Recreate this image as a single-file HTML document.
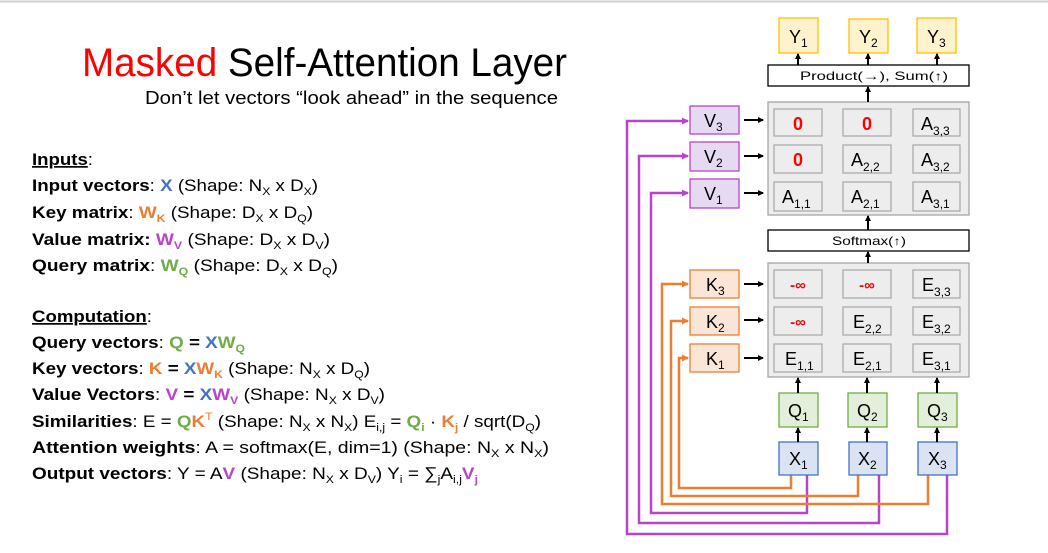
<!DOCTYPE html>
<html><head><meta charset="utf-8"><style>
html,body{margin:0;padding:0;background:#fff;}
svg{display:block;font-family:"Liberation Sans",sans-serif;}
.b{font-weight:bold}
</style></head><body>
<svg width="1048" height="553" viewBox="0 0 1048 553" xmlns="http://www.w3.org/2000/svg">
<defs>
<marker id="ak" markerWidth="6" markerHeight="6" refX="5" refY="3" orient="auto" markerUnits="userSpaceOnUse"><path d="M0,0 L6,3 L0,6z" fill="#000"/></marker>
<marker id="ap" markerWidth="7" markerHeight="7" refX="6" refY="3.5" orient="auto" markerUnits="userSpaceOnUse"><path d="M0,0 L7,3.5 L0,7z" fill="#B845C9"/></marker>
<marker id="ao" markerWidth="7" markerHeight="7" refX="6" refY="3.5" orient="auto" markerUnits="userSpaceOnUse"><path d="M0,0 L7,3.5 L0,7z" fill="#ED7D31"/></marker>
</defs>
<line x1="0" y1="1.5" x2="1048" y2="1.5" stroke="#d0d0d0" stroke-width="2"/>

<text x="82" y="76" font-size="40" textLength="485" lengthAdjust="spacingAndGlyphs"><tspan fill="#FF0000">Masked</tspan> Self-Attention Layer</text>
<text x="145" y="104" font-size="18" textLength="413" lengthAdjust="spacingAndGlyphs">Don’t let vectors “look ahead” in the sequence</text>

<g font-size="17">
<text x="32" y="165" textLength="61" lengthAdjust="spacingAndGlyphs"><tspan class="b" text-decoration="underline">Inputs</tspan>:</text>
<text x="32" y="191" textLength="286" lengthAdjust="spacingAndGlyphs"><tspan class="b">Input vectors</tspan>: <tspan class="b" fill="#4472C4">X</tspan> (Shape: N<tspan font-size="11" dy="4">X</tspan><tspan dy="-4"> x D</tspan><tspan font-size="11" dy="4">X</tspan><tspan dy="-4">)</tspan></text>
<text x="32" y="218" textLength="281" lengthAdjust="spacingAndGlyphs"><tspan class="b">Key matrix</tspan>: <tspan class="b" fill="#ED7D31">W</tspan><tspan class="b" fill="#ED7D31" font-size="11" dy="4">K</tspan><tspan dy="-4"> (Shape: D</tspan><tspan font-size="11" dy="4">X</tspan><tspan dy="-4"> x D</tspan><tspan font-size="11" dy="4">Q</tspan><tspan dy="-4">)</tspan></text>
<text x="32" y="245" textLength="298" lengthAdjust="spacingAndGlyphs"><tspan class="b">Value matrix: </tspan><tspan class="b" fill="#B845C9">W</tspan><tspan class="b" fill="#B845C9" font-size="11" dy="4">V</tspan><tspan dy="-4"> (Shape: D</tspan><tspan font-size="11" dy="4">X</tspan><tspan dy="-4"> x D</tspan><tspan font-size="11" dy="4">V</tspan><tspan dy="-4">)</tspan></text>
<text x="32" y="271" textLength="306" lengthAdjust="spacingAndGlyphs"><tspan class="b">Query matrix</tspan>: <tspan class="b" fill="#70AD47">W</tspan><tspan class="b" fill="#70AD47" font-size="11" dy="4">Q</tspan><tspan dy="-4"> (Shape: D</tspan><tspan font-size="11" dy="4">X</tspan><tspan dy="-4"> x D</tspan><tspan font-size="11" dy="4">Q</tspan><tspan dy="-4">)</tspan></text>

<text x="32" y="322" textLength="120" lengthAdjust="spacingAndGlyphs"><tspan class="b" text-decoration="underline">Computation</tspan>:</text>
<text x="32" y="348" textLength="213" lengthAdjust="spacingAndGlyphs"><tspan class="b">Query vectors</tspan>: <tspan class="b" fill="#70AD47">Q</tspan><tspan class="b"> = </tspan><tspan class="b" fill="#4472C4">X</tspan><tspan class="b" fill="#70AD47">W</tspan><tspan class="b" fill="#70AD47" font-size="11" dy="4">Q</tspan></text>
<text x="32" y="374" textLength="338" lengthAdjust="spacingAndGlyphs"><tspan class="b">Key vectors</tspan>: <tspan class="b" fill="#ED7D31">K</tspan><tspan class="b"> = </tspan><tspan class="b" fill="#4472C4">X</tspan><tspan class="b" fill="#ED7D31">W</tspan><tspan class="b" fill="#ED7D31" font-size="11" dy="4">K</tspan><tspan dy="-4">  (Shape: N</tspan><tspan font-size="11" dy="4">X</tspan><tspan dy="-4"> x D</tspan><tspan font-size="11" dy="4">Q</tspan><tspan dy="-4">)</tspan></text>
<text x="32" y="400" textLength="353" lengthAdjust="spacingAndGlyphs"><tspan class="b">Value Vectors</tspan>: <tspan class="b" fill="#B845C9">V</tspan><tspan class="b"> = </tspan><tspan class="b" fill="#4472C4">X</tspan><tspan class="b" fill="#B845C9">W</tspan><tspan class="b" fill="#B845C9" font-size="11" dy="4">V</tspan><tspan dy="-4"> (Shape: N</tspan><tspan font-size="11" dy="4">X</tspan><tspan dy="-4"> x D</tspan><tspan font-size="11" dy="4">V</tspan><tspan dy="-4">)</tspan></text>
<text x="32" y="427" textLength="509" lengthAdjust="spacingAndGlyphs"><tspan class="b">Similarities</tspan>: E = <tspan class="b" fill="#70AD47">Q</tspan><tspan class="b" fill="#ED7D31">K</tspan><tspan fill="#ED7D31" font-size="11" dy="-7">T</tspan><tspan dy="7"> (Shape: N</tspan><tspan font-size="11" dy="4">X</tspan><tspan dy="-4"> x N</tspan><tspan font-size="11" dy="4">X</tspan><tspan dy="-4">) E</tspan><tspan font-size="11" dy="4">i,j</tspan><tspan dy="-4"> = </tspan><tspan class="b" fill="#70AD47">Q</tspan><tspan class="b" fill="#70AD47" font-size="11" dy="4">i</tspan><tspan dy="-4"> · </tspan><tspan class="b" fill="#ED7D31">K</tspan><tspan class="b" fill="#ED7D31" font-size="11" dy="4">j</tspan><tspan dy="-4"> / sqrt(D</tspan><tspan font-size="11" dy="4">Q</tspan><tspan dy="-4">)</tspan></text>
<text x="32" y="453" textLength="517" lengthAdjust="spacingAndGlyphs"><tspan class="b">Attention weights</tspan>: A = softmax(E, dim=1)  (Shape: N<tspan font-size="11" dy="4">X</tspan><tspan dy="-4"> x N</tspan><tspan font-size="11" dy="4">X</tspan><tspan dy="-4">)</tspan></text>
<text x="32" y="479" textLength="446" lengthAdjust="spacingAndGlyphs"><tspan class="b">Output vectors</tspan>: Y = A<tspan class="b" fill="#B845C9">V</tspan> (Shape: N<tspan font-size="11" dy="4">X</tspan><tspan dy="-4"> x D</tspan><tspan font-size="11" dy="4">V</tspan><tspan dy="-4">) Y</tspan><tspan font-size="11" dy="4">i</tspan><tspan dy="-4"> = ∑</tspan><tspan font-size="11" dy="4">j</tspan><tspan dy="-4">A</tspan><tspan font-size="11" dy="4">i,j</tspan><tspan class="b" fill="#B845C9" dy="-4">V</tspan><tspan class="b" fill="#B845C9" font-size="11" dy="4">j</tspan></text>
</g>

<g fill="none" stroke="#B845C9" stroke-width="2.5">
<polyline points="807,475 807,513 651,513 651,193 688,193" marker-end="url(#ap)"/>
<polyline points="879,475 879,523 639,523 639,156 688,156" marker-end="url(#ap)"/>
<polyline points="947,475 947,534 627,534 627,121 688,121" marker-end="url(#ap)"/>
</g>
<g fill="none" stroke="#ED7D31" stroke-width="2.5">
<polyline points="791,475 791,488 679,488 679,358 688,358" marker-end="url(#ao)"/>
<polyline points="858,475 858,496 671,496 671,321 688,321" marker-end="url(#ao)"/>
<polyline points="928,475 928,504 662,504 662,284 688,284" marker-end="url(#ao)"/>
</g>

<g stroke="#FFC000" stroke-width="1.3" fill="#FFF2CC">
<rect x="779" y="18" width="39" height="35"/><rect x="849" y="19" width="39" height="34"/><rect x="917" y="18" width="39" height="35"/>
</g>
<g font-size="18">
<text x="789" y="43">Y<tspan font-size="12" dy="4">1</tspan></text>
<text x="859" y="43">Y<tspan font-size="12" dy="4">2</tspan></text>
<text x="927" y="43">Y<tspan font-size="12" dy="4">3</tspan></text>
</g>

<rect x="768" y="65" width="201" height="21" fill="#fff" stroke="#000" stroke-width="1.3"/>
<text x="800" y="80" font-size="12" textLength="148" lengthAdjust="spacingAndGlyphs">Product(→),   Sum(↑)</text>
<rect x="768" y="230" width="201" height="21" fill="#fff" stroke="#000" stroke-width="1.3"/>
<text x="832" y="245" font-size="12" textLength="74" lengthAdjust="spacingAndGlyphs">Softmax(↑)</text>

<rect x="768" y="102" width="201" height="113" fill="#EDEDED" stroke="#A6A6A6" stroke-width="1.3"/>
<rect x="768" y="263" width="201" height="114" fill="#EDEDED" stroke="#A6A6A6" stroke-width="1.3"/>
<g fill="#EDEDED" stroke="#A6A6A6" stroke-width="1.2">
<rect x="774" y="109" width="48" height="27"/><rect x="843" y="109" width="48" height="27"/><rect x="913" y="109" width="47" height="27"/>
<rect x="774" y="145" width="48" height="28"/><rect x="843" y="145" width="48" height="28"/><rect x="913" y="145" width="47" height="28"/>
<rect x="774" y="182" width="48" height="29"/><rect x="843" y="182" width="48" height="29"/><rect x="913" y="182" width="47" height="29"/>
<rect x="774" y="270" width="48" height="28"/><rect x="843" y="270" width="48" height="28"/><rect x="913" y="270" width="47" height="28"/>
<rect x="774" y="307" width="48" height="28"/><rect x="843" y="307" width="48" height="28"/><rect x="913" y="307" width="47" height="28"/>
<rect x="774" y="344" width="48" height="28"/><rect x="843" y="344" width="48" height="28"/><rect x="913" y="344" width="47" height="28"/>
</g>
<g font-size="18">
<text x="798" y="130" fill="#FF0000" font-weight="bold" text-anchor="middle">0</text>
<text x="867" y="130" fill="#FF0000" font-weight="bold" text-anchor="middle">0</text>
<text x="921" y="130">A<tspan font-size="12" dy="5">3,3</tspan></text>
<text x="798" y="166" fill="#FF0000" font-weight="bold" text-anchor="middle">0</text>
<text x="851" y="166">A<tspan font-size="12" dy="5">2,2</tspan></text>
<text x="921" y="166">A<tspan font-size="12" dy="5">3,2</tspan></text>
<text x="782" y="203">A<tspan font-size="12" dy="5">1,1</tspan></text>
<text x="851" y="203">A<tspan font-size="12" dy="5">2,1</tspan></text>
<text x="921" y="203">A<tspan font-size="12" dy="5">3,1</tspan></text>

<text x="798" y="290" fill="#FF0000" font-weight="bold" font-size="15" text-anchor="middle">-∞</text>
<text x="867" y="290" fill="#FF0000" font-weight="bold" font-size="15" text-anchor="middle">-∞</text>
<text x="922" y="291">E<tspan font-size="12" dy="5">3,3</tspan></text>
<text x="798" y="327" fill="#FF0000" font-weight="bold" font-size="15" text-anchor="middle">-∞</text>
<text x="853" y="328">E<tspan font-size="12" dy="5">2,2</tspan></text>
<text x="922" y="328">E<tspan font-size="12" dy="5">3,2</tspan></text>
<text x="785" y="365">E<tspan font-size="12" dy="5">1,1</tspan></text>
<text x="853" y="365">E<tspan font-size="12" dy="5">2,1</tspan></text>
<text x="922" y="365">E<tspan font-size="12" dy="5">3,1</tspan></text>
</g>

<g fill="#E6DAF2" stroke="#B845C9" stroke-width="1.3">
<rect x="690" y="106" width="49" height="28"/><rect x="690" y="142" width="49" height="29"/><rect x="690" y="179" width="49" height="29"/>
</g>
<g fill="#FBE5D6" stroke="#ED7D31" stroke-width="1.3">
<rect x="690" y="270" width="49" height="28"/><rect x="690" y="307" width="49" height="28"/><rect x="690" y="344" width="49" height="28"/>
</g>
<g font-size="18">
<text x="704" y="127">V<tspan font-size="12" dy="4">3</tspan></text>
<text x="704" y="163">V<tspan font-size="12" dy="4">2</tspan></text>
<text x="704" y="200">V<tspan font-size="12" dy="4">1</tspan></text>
<text x="706" y="291">K<tspan font-size="12" dy="4">3</tspan></text>
<text x="706" y="328">K<tspan font-size="12" dy="4">2</tspan></text>
<text x="706" y="365">K<tspan font-size="12" dy="4">1</tspan></text>
</g>

<g fill="#E2EFDA" stroke="#70AD47" stroke-width="1.3">
<rect x="779" y="393" width="39" height="34"/><rect x="848" y="393" width="39" height="34"/><rect x="918" y="393" width="39" height="34"/>
</g>
<g fill="#DAE3F3" stroke="#4472C4" stroke-width="1.3">
<rect x="779" y="442" width="39" height="33"/><rect x="849" y="442" width="38" height="33"/><rect x="918" y="442" width="39" height="33"/>
</g>
<g font-size="18">
<text x="788" y="417">Q<tspan font-size="12" dy="4">1</tspan></text>
<text x="857" y="417">Q<tspan font-size="12" dy="4">2</tspan></text>
<text x="927" y="417">Q<tspan font-size="12" dy="4">3</tspan></text>
<text x="789" y="465">X<tspan font-size="12" dy="4">1</tspan></text>
<text x="858" y="465">X<tspan font-size="12" dy="4">2</tspan></text>
<text x="928" y="465">X<tspan font-size="12" dy="4">3</tspan></text>
</g>

<g stroke="#000" stroke-width="2" marker-end="url(#ak)">
<line x1="798" y1="65" x2="798" y2="54"/><line x1="868" y1="65" x2="868" y2="54"/><line x1="937" y1="65" x2="937" y2="54"/>
<line x1="868" y1="102" x2="868" y2="87"/>
<line x1="868" y1="230" x2="868" y2="216"/>
<line x1="868" y1="263" x2="868" y2="252"/>
<line x1="798" y1="393" x2="798" y2="378"/><line x1="867" y1="393" x2="867" y2="378"/><line x1="937" y1="393" x2="937" y2="378"/>
<line x1="798" y1="442" x2="798" y2="428"/><line x1="867" y1="442" x2="867" y2="428"/><line x1="937" y1="442" x2="937" y2="428"/>
<line x1="744" y1="120" x2="763" y2="120"/><line x1="744" y1="156" x2="763" y2="156"/><line x1="744" y1="193" x2="763" y2="193"/>
<line x1="744" y1="284" x2="763" y2="284"/><line x1="744" y1="320" x2="763" y2="320"/><line x1="744" y1="358" x2="763" y2="358"/>
</g>
</svg>
</body></html>
